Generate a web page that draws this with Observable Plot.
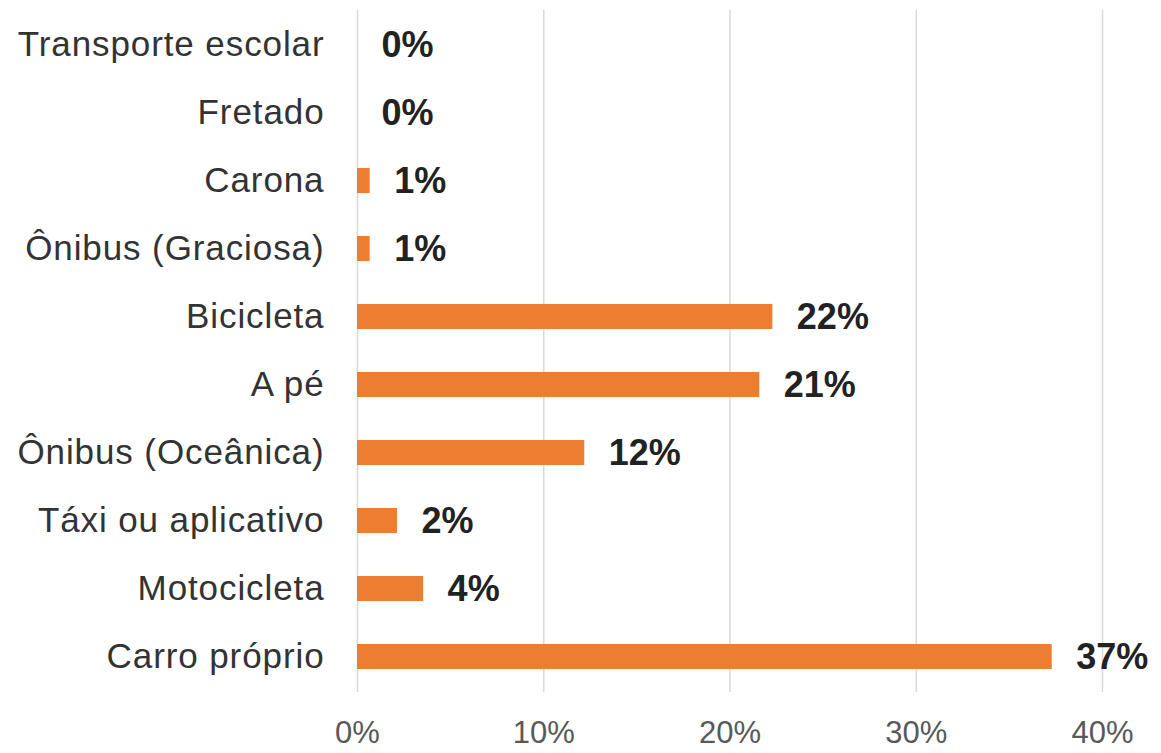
<!DOCTYPE html>
<html><head><meta charset="utf-8">
<script src="https://cdn.jsdelivr.net/npm/d3@7"></script>
<script src="https://cdn.jsdelivr.net/npm/@observablehq/plot@0.6"></script>
<style>
body{margin:0;background:#fff;}
#chart text{font-family:"Liberation Sans",Arial,sans-serif;}
#chart g[aria-label="y-axis tick label"] text{letter-spacing:0.9px;}
</style></head><body><div id="chart"></div>
<script>
const categories = ["Transporte escolar","Fretado","Carona","Ônibus (Graciosa)","Bicicleta","A pé","Ônibus (Oceânica)","Táxi ou aplicativo","Motocicleta","Carro próprio"];
const values = [0, 0, 0.68, 0.68, 22.3, 21.6, 12.2, 2.15, 3.55, 37.3];
const valueLabels = ["0%","0%","1%","1%","22%","21%","12%","2%","4%","37%"];
const xTicks = [0, 10, 20, 30, 40];
const xTickLabels = ["0%","10%","20%","30%","40%"];

const data = categories.map((c, i) => ({category: c, value: values[i], label: valueLabels[i]}));

const chart = Plot.plot({
  width: 1161, height: 753,
  marginLeft: 357, marginRight: 59, marginTop: 10, marginBottom: 61,
  style: {fontFamily: '"Liberation Sans", Arial, sans-serif', background: "#fff"},
  x: {domain: [0, 40], label: null},
  y: {domain: categories, paddingInner: 0.63, paddingOuter: 0.315, label: null},
  marks: [
    Plot.gridX(xTicks, {stroke: "#d9d9d9", strokeOpacity: 1, strokeWidth: 1.5}),
    Plot.barX(data, {y: "category", x: "value", fill: "#ED7D31"}),
    Plot.text(data, {y: "category", x: "value", text: "label", dx: 24, textAnchor: "start", fontWeight: "bold", fontSize: 36, fill: "#222"}),
    Plot.axisY({tickSize: 0, tickPadding: 33, fontSize: 35, color: "#333", label: null}),
    Plot.axisX({ticks: xTicks, tickFormat: d => xTickLabels[xTicks.indexOf(d)], tickSize: 0, tickPadding: 28, fontSize: 31, color: "#595959", label: null})
  ]
});
document.getElementById("chart").appendChild(chart);
</script></body></html>
